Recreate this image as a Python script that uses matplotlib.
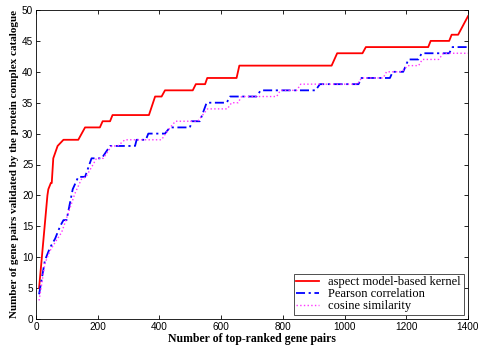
import numpy as np
import matplotlib
matplotlib.use("Agg")
import matplotlib.pyplot as plt

# breakpoints (x = top-ranked pairs, y = validated pairs)
aspect_x = [10, 37, 40, 48, 51, 56, 70, 89, 137, 159, 207, 216, 240, 248, 366, 386,
            407, 418, 508, 518, 548, 555, 650, 659, 958, 976, 1058, 1069, 1271, 1279,
            1339, 1347, 1368, 1400]
aspect_y = [5, 20, 21, 22, 22, 26, 28, 29, 29, 31, 31, 32, 32, 33, 33, 36,
            36, 37, 37, 38, 38, 39, 39, 41, 41, 43, 43, 44, 44, 45,
            45, 46, 46, 49]

pearson_x = [10, 29, 45, 62, 78, 89, 99, 119, 137, 159, 180, 213, 240, 321, 326, 356,
             364, 418, 434, 499, 504, 531, 553, 618, 629, 715, 728, 906, 920, 1045,
             1055, 1147, 1156, 1190, 1207, 1239, 1250, 1339, 1350, 1400]
pearson_y = [4, 9.5, 11.5, 13, 15, 16, 16, 21, 23, 23, 26, 26, 28, 28, 29, 29,
             30, 30, 31, 31, 32, 32, 35, 35, 36, 36, 37, 37, 38, 38,
             39, 39, 40, 40, 42, 42, 43, 43, 44, 44]

cosine_x = [10, 29, 45, 67, 83, 99, 126, 148, 162, 185, 196, 218, 245, 265, 288, 407,
            420, 435, 452, 524, 556, 620, 634, 655, 666, 780, 792, 845, 858, 1042,
            1055, 1125, 1136, 1185, 1205, 1240, 1252, 1305, 1320, 1400]
cosine_y = [3, 9, 11, 12.8, 14, 16.3, 20.3, 22.7, 23, 25, 26, 26, 28, 28, 29, 29,
            30, 31, 32, 32, 34, 34, 35, 35, 36, 36, 37, 37, 38, 38,
            39, 39, 40, 40, 41, 41, 42, 42, 43, 43]

labels = ['aspect model-based kernel', 'Pearson correlation', 'cosine similarity']

fig = plt.figure(figsize=(4.78, 3.47), dpi=100)
ax = fig.add_axes([36 / 478, 1 - 319 / 347, 432 / 478, 309 / 347])

ax.plot(aspect_x, aspect_y, color='#ff0000', lw=1.3, label=labels[0])
ax.plot(pearson_x, pearson_y, color='#0000ff', lw=1.3, dashes=(5, 2, 1.2, 2),
        label=labels[1])
ax.plot(cosine_x, cosine_y, color='#ff33ff', lw=1.0, ls=':', label=labels[2])

ax.set_xlim(0, 1400)
ax.set_ylim(0, 50)
ax.set_xticks(np.arange(0, 1401, 200))
ax.set_yticks(np.arange(0, 51, 5))
ax.tick_params(direction='in', top=True, right=True, length=3, width=0.6,
               labelsize=7.2, pad=2)
for lab in ax.get_xticklabels() + ax.get_yticklabels():
    lab.set_family('Liberation Sans')
for sp in ax.spines.values():
    sp.set_linewidth(0.6)

ax.set_xlabel('Number of top-ranked gene pairs', family='Liberation Serif',
              fontweight='bold', fontsize=8.5, labelpad=1)
ax.set_ylabel('Number of gene pairs validated by the protein complex catalogue',
              family='Liberation Serif', fontweight='bold', fontsize=8, labelpad=2)

leg = ax.legend(loc='lower right', prop={'family': 'Liberation Serif', 'size': 9},
                fancybox=False, framealpha=1, edgecolor='#333333', borderaxespad=0.35,
                handlelength=1.8, handletextpad=0.8, labelspacing=0.0,
                borderpad=0.2)
leg.get_frame().set_linewidth(0.6)

fig.savefig('out.png', dpi=100)
